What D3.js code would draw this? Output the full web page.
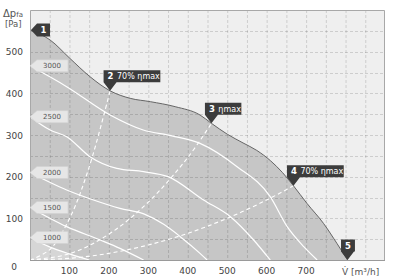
<!DOCTYPE html>
<html><head><meta charset="utf-8">
<script src="https://cdn.jsdelivr.net/npm/d3@7"></script>
<style>body{margin:0;background:#fff}svg{display:block;font-family:"DejaVu Sans",sans-serif}</style>
</head><body><svg id="c" width="393" height="278"></svg>
<script>
// ---- data ----
const xTicks = [100,200,300,400,500,600,700];
const yTicks = [100,200,300,400,500];
const maxCurve = [[0,552],[51,528],[101,484],[152,440],[203,406],[254,388],[305,380],[368,368],[431,348],[460,328],[500,302],[540,281],[575,263],[610,238],[640,210],[668,178],[702,136],[744,88],[778,40],[805,0]];
const speedNames = ["3000","2500","2000","1500","1000"];
const speed3000 = [[0,466],[93,416],[203,348],[287,312],[360,298],[431,280],[525,224],[609,152],[652,80],[694,32],[728,0]];
const speed2500 = [[0,344],[51,312],[93,296],[152,248],[220,220],[288,212],[350,200],[440,144],[508,104],[567,48],[609,0]];
const speed2000 = [[0,210],[93,168],[161,144],[228,124],[290,110],[340,85],[381,56],[431,16],[449,0]];
const speed1500 = [[0,126],[93,80],[178,48],[228,28],[288,0]];
const speed1000 = [[0,54],[25,42],[51,31],[102,14],[150,0]];
const eff2 = [[0,0],[50,25],[100,99],[150,223],[203,406]];
const eff3 = [[0,0],[100,15],[200,62],[300,139],[400,246],[460,328]];
const eff4 = [[0,0],[100,4],[200,16],[300,36],[400,64],[500,100],[600,144],[668,178]];
const markerNums = ["1","2","3","4","5"];
const markerTexts = ["","70% ηmax","ηmax","70% ηmax",""];
const markerPts = [[0,552],[203,406],[460,328],[668,178],[805,0]];

// ---- chart ----
const svg = d3.select("#c");
const x = d3.scaleLinear().domain([0,900]).range([30,385]);
const y = d3.scaleLinear().domain([0,600]).range([260,10]);
const line = d3.line().x(d=>x(d[0])).y(d=>y(d[1])).curve(d3.curveMonotoneX);
const area = d3.area().x(d=>x(d[0])).y0(y(0)).y1(d=>y(d[1])).curve(d3.curveMonotoneX);

svg.append("rect").attr("x",x(0)).attr("y",y(600)).attr("width",x(900)-x(0)).attr("height",y(0)-y(600)).attr("fill","#efefef");
svg.append("path").datum(maxCurve).attr("d",area).attr("fill","#c6c6c6");
svg.append("path").datum(speed1000).attr("d",area).attr("fill","#d6d6d6");

// grid
const gx = d3.range(50,900,50), gy = d3.range(50,600,50);
svg.append("g").selectAll("line").data(gx).join("line")
  .attr("x1",d=>x(d)+0.5).attr("x2",d=>x(d)+0.5).attr("y1",y(600)).attr("y2",y(0))
  .attr("stroke","rgba(0,0,0,0.14)").attr("stroke-dasharray","3,2");
svg.append("g").selectAll("line").data(gy).join("line")
  .attr("y1",d=>Math.round(y(d))+0.5).attr("y2",d=>Math.round(y(d))+0.5).attr("x1",x(0)).attr("x2",x(900))
  .attr("stroke","rgba(0,0,0,0.14)").attr("stroke-dasharray","3,2");

// speed curves
const speeds = [speed3000,speed2500,speed2000,speed1500,speed1000];
svg.append("g").selectAll("path").data(speeds).join("path").attr("d",line)
  .attr("fill","none").attr("stroke","#fff").attr("stroke-width",1.2);
// efficiency lines
const line2 = d3.line().x(d=>x(d[0])).y(d=>y(d[1])).curve(d3.curveCatmullRom);
svg.append("g").selectAll("path").data([eff2,eff3,eff4]).join("path").attr("d",line2)
  .attr("fill","none").attr("stroke","#fff").attr("stroke-width",1.1).attr("stroke-dasharray","4,3");
// max curve outline
svg.append("path").datum(maxCurve).attr("d",line).attr("fill","none").attr("stroke","#666").attr("stroke-width",1);

// frame
svg.append("path").attr("d",`M${x(0)+0.5},${y(0)}V${y(600)+0.5}H${x(900)-0.5}V${y(0)}`).attr("fill","none").attr("stroke","#a8a8a8");
svg.append("line").attr("x1",x(0)).attr("x2",x(900)).attr("y1",y(0)+0.5).attr("y2",y(0)+0.5).attr("stroke","#9a9a9a");

// tick labels
svg.append("g").selectAll("text").data(xTicks).join("text").attr("x",d=>x(d)).attr("y",273.5)
  .attr("text-anchor","middle").attr("font-size",9).attr("fill","#444").text(d=>d);
svg.append("g").selectAll("text").data(yTicks).join("text").attr("x",23).attr("y",d=>y(d)+3.5)
  .attr("text-anchor","end").attr("font-size",9).attr("fill","#444").text(d=>d);
svg.append("text").attr("x",14).attr("y",270).attr("text-anchor","middle").attr("font-size",9).attr("fill","#444").text("0");

// axis titles
const t1 = svg.append("text").attr("x",3).attr("y",17).attr("font-size",10).attr("fill","#555");
t1.append("tspan").text("Δp");
t1.append("tspan").attr("font-size",7).attr("dy",0).text("fa");
svg.append("text").attr("x",5).attr("y",27).attr("font-size",8.5).attr("fill","#555").text("[Pa]");
svg.append("text").attr("x",342).attr("y",274.5).attr("font-size",9).attr("fill","#555").text("V̇ [m³/h]");

// speed tags
const starts = speeds.map(s=>s[0][1]);
const tg = svg.append("g").selectAll("g").data(speedNames).join("g");
tg.append("path").attr("d",(d,i)=>{const yy=y(starts[i]);return `M${x(0)},${yy}L${x(0)+7},${yy-6}H68V${yy+6}H${x(0)+7}Z`;})
  .attr("fill","#e6e6e6").attr("stroke","#d2d2d2").attr("stroke-width",0.6);
tg.append("text").attr("x",52).attr("y",(d,i)=>y(starts[i])+2.6).attr("text-anchor","middle")
  .attr("font-size",7).attr("fill","#555").text(d=>d);

// markers
markerNums.forEach((n,i)=>{
  const tx = x(markerPts[i][0]), ty = y(markerPts[i][1]);
  const g = svg.append("g");
  if(i===0){
    g.append("path").attr("d",`M${tx+1},${ty}L${tx+7},${ty-6.5}H50V${ty+6.5}H${tx+7}Z`).attr("fill","#3c3c3c");
    g.append("text").attr("x",43.5).attr("y",ty+3.3).attr("text-anchor","middle").attr("font-size",8.5).attr("font-weight","bold").attr("fill","#fff").text(n);
    return;
  }
  const left = tx-6.5, bottom = ty-8.5, h = 12;
  const bg = g.append("path").attr("fill","#3c3c3c");
  const txt = g.append("text").attr("x",left+4).attr("y",bottom-3).attr("fill","#fff");
  txt.append("tspan").attr("font-size",8.5).attr("font-weight","bold").text(n);
  if(markerTexts[i]) txt.append("tspan").attr("font-size",8).attr("dx",3.5).text(markerTexts[i]);
  const w = Math.max(13, txt.node().getComputedTextLength()+8);
  bg.attr("d",`M${left},${bottom-h}H${left+w}V${bottom}H${left+13}L${tx},${ty}L${left},${bottom}Z`);
});
</script></body></html>
